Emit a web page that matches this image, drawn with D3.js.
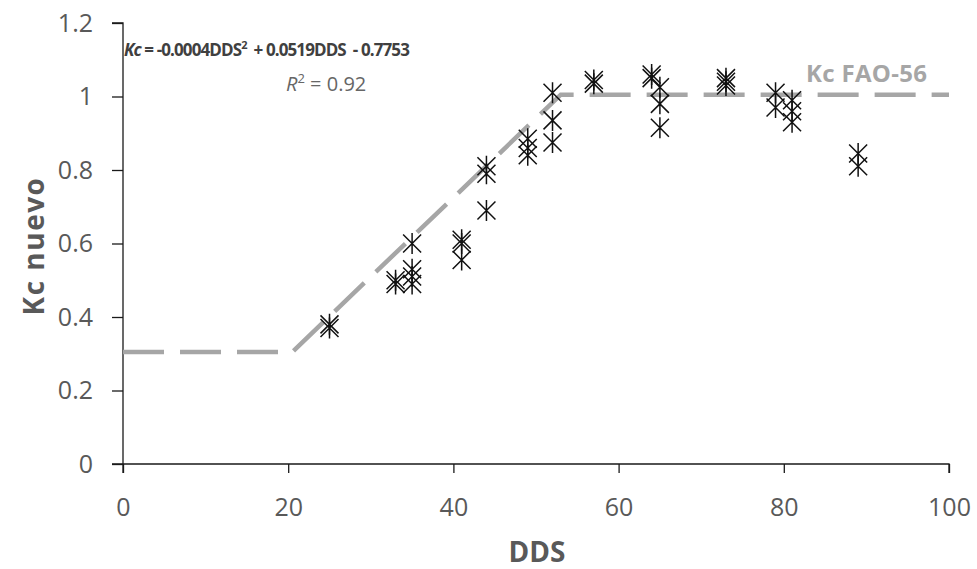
<!DOCTYPE html>
<html>
<head>
<meta charset="utf-8">
<script src="https://cdn.jsdelivr.net/npm/d3@7"></script>
<style>
  html, body { margin: 0; padding: 0; background: #fff; }
  svg { display: block; font-family: "Open Sans", Lato, sans-serif; }
</style>
</head>
<body>
<svg id="chart" width="977" height="569"></svg>
<script>
// Observed crop coefficient by days after sowing (DDS)
const dds = [25, 25, 33, 33, 35, 35, 35, 35, 41, 41, 41, 44, 44, 44,
             49, 49, 49, 52, 52, 52, 57, 57, 64, 64, 65, 65, 65,
             73, 73, 73, 79, 79, 81, 81, 81, 89, 89];
const kc  = [0.38, 0.37, 0.50, 0.49, 0.60, 0.53, 0.51, 0.49, 0.61, 0.60, 0.555, 0.81, 0.79, 0.69,
             0.885, 0.86, 0.84, 1.01, 0.935, 0.875, 1.045, 1.035, 1.06, 1.05, 1.025, 0.98, 0.915,
             1.05, 1.04, 1.03, 1.01, 0.97, 0.99, 0.96, 0.93, 0.845, 0.81];

// FAO-56 reference curve breakpoints
const faoDds = [0, 20.5, 53, 100];
const faoKc  = [0.305, 0.305, 1.005, 1.005];

const xTicks = [0, 20, 40, 60, 80, 100];
const yTicks = [0, 0.2, 0.4, 0.6, 0.8, 1, 1.2];

const svg = d3.select("#chart");
const m = { left: 123, right: 949, top: 23, bottom: 464 };

const x = d3.scaleLinear().domain([0, 100]).range([m.left, m.right]);
const y = d3.scaleLinear().domain([0, 1.2]).range([m.bottom, m.top]);

const labelColor = "#595959";

// Axes
const xAxis = svg.append("g")
  .attr("transform", `translate(0,${m.bottom})`)
  .call(d3.axisBottom(x).tickValues(xTicks).tickSize(9).tickPadding(25).tickFormat(d3.format("d")));
const yAxis = svg.append("g")
  .attr("transform", `translate(${m.left},0)`)
  .call(d3.axisLeft(y).tickValues(yTicks).tickSize(11).tickPadding(19)
    .tickFormat(d => (d === 0 || d === 1) ? String(d) : d3.format(".1f")(d)));

[xAxis, yAxis].forEach(g => {
  g.select(".domain").attr("stroke", "#1a1a1a").attr("stroke-width", 1.3);
  g.selectAll(".tick line").attr("stroke", "#1a1a1a").attr("stroke-width", 1.3);
  g.selectAll(".tick text").attr("fill", labelColor).attr("font-size", 25)
    .attr("font-family", "'Open Sans', Lato, sans-serif");
});
// extend axis lines slightly past the origin
xAxis.select(".domain").attr("d", `M${m.left - 11},0H${m.right}V9`);
yAxis.select(".domain").attr("d", `M-11,${m.top}H0V${m.bottom + 9}`);

// FAO-56 curve
const line = d3.line().x((d, i) => x(faoDds[i])).y((d, i) => y(faoKc[i]));
svg.append("path")
  .datum(faoKc)
  .attr("d", line)
  .attr("fill", "none")
  .attr("stroke", "#a6a6a6")
  .attr("stroke-width", 4.5)
  .attr("stroke-dasharray", "41,16");

// Star markers: vertical bar crossed by an X
const sv = 10.5, sx = 9, sy = 9;
const star = `M0,${-sv}V${sv}M${-sx},${-sy}L${sx},${sy}M${-sx},${sy}L${sx},${-sy}`;
svg.append("g").selectAll("path")
  .data(dds)
  .join("path")
  .attr("transform", (d, i) => `translate(${x(d)},${y(kc[i])})`)
  .attr("d", star)
  .attr("fill", "none")
  .attr("stroke", "#111")
  .attr("stroke-width", 1.5);

// Regression equation and R²
const eq = svg.append("text")
  .attr("x", 124).attr("y", 56)
  .attr("font-size", 17).attr("font-weight", "bold").attr("fill", "#404040")
  .attr("letter-spacing", -0.9)
  .style("white-space", "pre");
eq.append("tspan").attr("font-style", "italic").text("Kc");
eq.append("tspan").text(" = -0.0004DDS");
eq.append("tspan").attr("dy", -7).attr("font-size", 11).text("2");
eq.append("tspan").attr("dy", 7).text("  + 0.0519DDS  - 0.7753");

const r2 = svg.append("text")
  .attr("x", 286).attr("y", 91)
  .attr("font-size", 20).attr("fill", "#666")
  .style("white-space", "pre");
r2.append("tspan").attr("font-style", "italic").text("R");
r2.append("tspan").attr("dy", -8).attr("font-size", 13).text("2");
r2.append("tspan").attr("dy", 8).text(" = 0.92");

// Curve label
svg.append("text")
  .attr("x", 806).attr("y", 82)
  .attr("font-size", 24).attr("font-weight", "bold").attr("fill", "#a6a6a6")
  .attr("letter-spacing", 0.3)
  .text("Kc FAO-56");

// Axis titles
svg.append("text")
  .attr("x", 537).attr("y", 562)
  .attr("text-anchor", "middle")
  .attr("font-size", 28).attr("font-weight", "bold").attr("fill", labelColor)
  .text("DDS");
svg.append("text")
  .attr("transform", "translate(44,246) rotate(-90)")
  .attr("text-anchor", "middle")
  .attr("font-size", 28).attr("font-weight", "bold").attr("fill", labelColor)
  .attr("letter-spacing", 1.5)
  .text("Kc nuevo");
</script>
</body>
</html>
